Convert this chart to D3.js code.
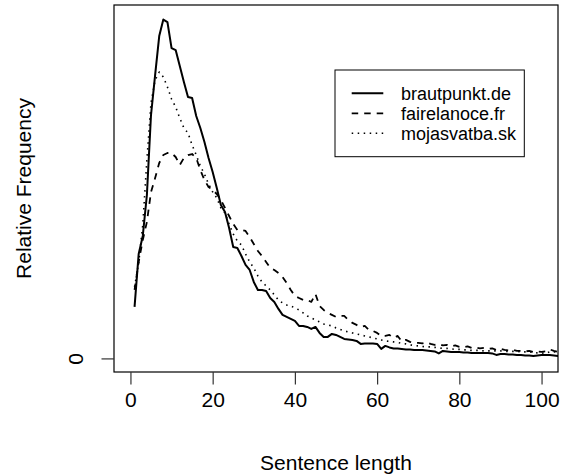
<!DOCTYPE html>
<html>
<head>
<meta charset="utf-8">
<script src="https://cdn.jsdelivr.net/npm/d3@7"></script>
<style>
  html, body { margin: 0; padding: 0; background: #fff; }
  svg { display: block; font-family: "Liberation Sans", Arial, sans-serif; }
</style>
</head>
<body>
<svg id="chart" width="563" height="476"></svg>
<script>
// Sentence length (x) 1..105
const sentenceLength = d3.range(1, 106);

const brautpunkt = [
  0.0103, 0.0209, 0.0245, 0.0327, 0.0487, 0.0567, 0.0645, 0.0678, 0.0673, 0.0621,
  0.0617, 0.0585, 0.0553, 0.0523, 0.0521, 0.0485, 0.0461, 0.0433, 0.0401, 0.0373,
  0.0341, 0.0307, 0.0293, 0.0261, 0.0223, 0.0221, 0.0205, 0.0187, 0.0177, 0.0153,
  0.0137, 0.0137, 0.0135, 0.0121, 0.0113, 0.0099, 0.0087, 0.0083, 0.0079, 0.0075,
  0.0065, 0.0065, 0.0063, 0.0059, 0.0063, 0.0051, 0.0043, 0.0043, 0.0049, 0.0047,
  0.0043, 0.0039, 0.0038, 0.0037, 0.0035, 0.0029, 0.0030, 0.0030, 0.0030, 0.0029,
  0.0019, 0.0025, 0.0022, 0.0020, 0.0020, 0.0019, 0.0018, 0.0018, 0.0017, 0.0017,
  0.0017, 0.0016, 0.0015, 0.0014, 0.0010, 0.0015, 0.0014, 0.0013, 0.0013, 0.0013,
  0.0012, 0.0012, 0.0011, 0.0011, 0.0011, 0.0011, 0.0011, 0.0010, 0.0007, 0.0009,
  0.0009, 0.0008, 0.0008, 0.0007, 0.0007, 0.0006, 0.0006, 0.0005, 0.0006, 0.0007,
  0.0007, 0.0007, 0.0006, 0.0005, 0.0005
];

const fairelanoce = [
  0.0137, 0.0193, 0.0237, 0.0273, 0.0333, 0.0361, 0.0391, 0.0407, 0.0411, 0.0411,
  0.0403, 0.0387, 0.0401, 0.0407, 0.0409, 0.0401, 0.0377, 0.0357, 0.0343, 0.0337,
  0.0329, 0.0317, 0.0301, 0.0285, 0.0269, 0.0257, 0.0257, 0.0255, 0.0243, 0.0229,
  0.0215, 0.0205, 0.0193, 0.0181, 0.0177, 0.0171, 0.0163, 0.0151, 0.0137, 0.0125,
  0.0121, 0.0117, 0.0117, 0.0113, 0.0129, 0.0105, 0.0097, 0.0091, 0.0087, 0.0083,
  0.0085, 0.0085, 0.0077, 0.0071, 0.0067, 0.0063, 0.0065, 0.0057, 0.0055, 0.0051,
  0.0045, 0.0045, 0.0047, 0.0041, 0.0045, 0.0034, 0.0037, 0.0033, 0.0031, 0.0031,
  0.0030, 0.0032, 0.0029, 0.0027, 0.0029, 0.0026, 0.0027, 0.0024, 0.0026, 0.0023,
  0.0022, 0.0024, 0.0021, 0.0022, 0.0020, 0.0021, 0.0019, 0.0020, 0.0017, 0.0019,
  0.0017, 0.0016, 0.0017, 0.0015, 0.0015, 0.0014, 0.0015, 0.0013, 0.0014, 0.0013,
  0.0014, 0.0018, 0.0015, 0.0013, 0.0013
];

const mojasvatba = [
  0.0143, 0.0191, 0.0267, 0.0397, 0.0511, 0.0557, 0.0573, 0.0563, 0.0543, 0.0519,
  0.0503, 0.0481, 0.0461, 0.0451, 0.0427, 0.0407, 0.0385, 0.0369, 0.0349, 0.0333,
  0.0321, 0.0301, 0.0291, 0.0269, 0.0249, 0.0235, 0.0227, 0.0209, 0.0193, 0.0181,
  0.0165, 0.0153, 0.0145, 0.0137, 0.0127, 0.0117, 0.0111, 0.0107, 0.0105, 0.0101,
  0.0097, 0.0091, 0.0085, 0.0081, 0.0077, 0.0073, 0.0069, 0.0067, 0.0065, 0.0061,
  0.0058, 0.0055, 0.0053, 0.0051, 0.0049, 0.0047, 0.0045, 0.0043, 0.0041, 0.0039,
  0.0037, 0.0035, 0.0034, 0.0033, 0.0032, 0.0030, 0.0029, 0.0027, 0.0026, 0.0025,
  0.0024, 0.0023, 0.0023, 0.0022, 0.0021, 0.0020, 0.0020, 0.0019, 0.0018, 0.0018,
  0.0017, 0.0017, 0.0016, 0.0016, 0.0016, 0.0015, 0.0015, 0.0015, 0.0015, 0.0015,
  0.0014, 0.0014, 0.0014, 0.0014, 0.0013, 0.0013, 0.0013, 0.0012, 0.0011, 0.0011,
  0.0010, 0.0013, 0.0013, 0.0013, 0.0013
];

const seriesNames = ["brautpunkt.de", "fairelanoce.fr", "mojasvatba.sk"];
const seriesDash = [null, "6.5,6", "1.5,4.5"];
const seriesWidth = [2, 1.8, 1.6];
const xTicks = [0, 20, 40, 60, 80, 100];
const yTicks = [0];
const xTitle = "Sentence length";
const yTitle = "Relative Frequency";

const svg = d3.select("#chart");
const pLeft = 114, pRight = 558, pTop = 5, pBottom = 372;

const x = d3.scaleLinear().domain([-4, 104]).range([pLeft, pRight]);
const yMax = 0.068;
const y = d3.scaleLinear().domain([-0.04 * yMax, 1.04 * yMax]).range([pBottom, pTop]);

svg.append("defs").append("clipPath").attr("id", "clip")
  .append("rect").attr("x", pLeft).attr("y", pTop)
  .attr("width", pRight - pLeft).attr("height", pBottom - pTop);

const allSeries = [brautpunkt, fairelanoce, mojasvatba];
const line = d3.line().x(d => x(d[0])).y(d => y(d[1]));

const g = svg.append("g").attr("clip-path", "url(#clip)");
allSeries.forEach((vals, i) => {
  g.append("path")
    .datum(sentenceLength.map((s, j) => [s, vals[j]]))
    .attr("d", line)
    .attr("fill", "none")
    .attr("stroke", "#000")
    .attr("stroke-width", seriesWidth[i])
    .attr("stroke-linejoin", "round")
    .attr("stroke-dasharray", seriesDash[i]);
});

// Box
svg.append("rect").attr("x", pLeft).attr("y", pTop)
  .attr("width", pRight - pLeft).attr("height", pBottom - pTop)
  .attr("fill", "none").attr("stroke", "#000").attr("stroke-width", 1.2);

// X axis
const xAxis = d3.axisBottom(x).tickValues(xTicks).tickSize(12.5).tickPadding(8)
  .tickFormat(d3.format("d"));
const xa = svg.append("g").attr("transform", `translate(0,${pBottom})`).call(xAxis);
xa.select(".domain").remove();
xa.selectAll(".tick line").attr("stroke", "#333").attr("stroke-width", 1.2);
xa.selectAll(".tick text").attr("font-size", 21).attr("fill", "#000")
  .attr("font-family", "Liberation Sans, Arial, sans-serif");

// Y axis
const yAxis = d3.axisLeft(y).tickValues(yTicks).tickSize(12.5).tickPadding(0)
  .tickFormat(d3.format("d"));
const ya = svg.append("g").attr("transform", `translate(${pLeft},0)`).call(yAxis);
ya.select(".domain").remove();
ya.selectAll(".tick line").attr("stroke", "#333").attr("stroke-width", 1.2);
ya.selectAll(".tick text").remove();
ya.selectAll(".tick").append("text")
  .attr("transform", "translate(-31,0) rotate(-90)")
  .attr("text-anchor", "middle")
  .attr("font-size", 21)
  .attr("fill", "#000")
  .text(d => d3.format("d")(d));

// Titles
svg.append("text").attr("x", (pLeft + pRight) / 2).attr("y", 470)
  .attr("text-anchor", "middle").attr("font-size", 21).text(xTitle);
svg.append("text")
  .attr("transform", `translate(31,${(pTop + pBottom) / 2}) rotate(-90)`)
  .attr("text-anchor", "middle").attr("font-size", 21).text(yTitle);

// Legend
const lg = svg.append("g");
lg.append("rect").attr("x", 335).attr("y", 70).attr("width", 189.3).attr("height", 86.7)
  .attr("fill", "#fff").attr("stroke", "#000").attr("stroke-width", 1);
seriesNames.forEach((name, i) => {
  const yy = 93.3 + i * 20;
  lg.append("line").attr("x1", 351.7).attr("x2", 383.3).attr("y1", yy).attr("y2", yy)
    .attr("stroke", "#000").attr("stroke-width", seriesWidth[i])
    .attr("stroke-dasharray", seriesDash[i]);
  lg.append("text").attr("x", 401).attr("y", yy).attr("dy", "0.35em")
    .attr("font-size", 18).text(name);
});
</script>
</body>
</html>
